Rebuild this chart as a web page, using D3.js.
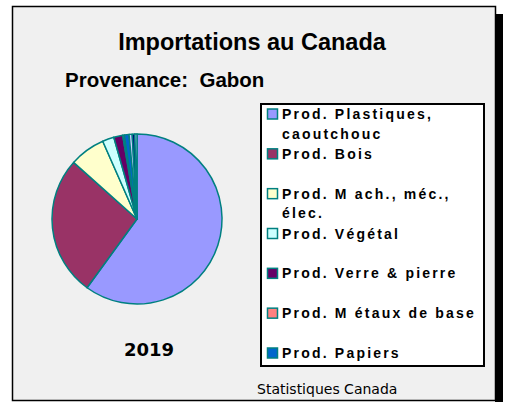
<!DOCTYPE html>
<html>
<head>
  <meta charset="utf-8">
  <script src="https://cdn.jsdelivr.net/npm/d3@7"></script>
  <style>
body { margin: 0; background: #fff; }
.title { font: bold 23.5px "Liberation Sans", Arial, sans-serif; white-space: pre; }
.legend text { font: bold 14px "Liberation Sans", Arial, sans-serif; letter-spacing: 2.2px; }
.year { font: bold 18px "DejaVu Sans", sans-serif; }
.source { font: 14px "DejaVu Sans", sans-serif; }
  </style>
</head>
<body>
  <svg width="507" height="402"></svg>
  <script>

// data (share of imports, %)
const categories = ["Prod. Plastiques, caoutchouc", "Prod. Bois", "Prod. Mach., méc., élec.",
                    "Prod. Végétal", "Prod. Verre & pierre", "Prod. Métaux de base", "Prod. Papiers",
                    "Autres 1", "Autres 2", "Autres 3"];
const values = [60.0, 26.6, 6.8, 2.2, 1.7, 0.3, 0.9, 0.6, 0.5, 0.4];
const colors = ["#9999FF", "#993366", "#FFFFCC", "#CCFFFF", "#660066", "#FF8080", "#0066CC",
                "#CCCCFF", "#000080", "#CCCCFF"];
// legend shows only the first 7, with line breaks as in the picture
const legendLines = [["Prod. Plastiques,", "caoutchouc"], ["Prod. Bois"], ["Prod. M ach., méc.,", "élec."],
                     ["Prod. Végétal"], ["Prod. Verre & pierre"], ["Prod. M étaux de base"], ["Prod. Papiers"]];

var svg = d3.select("svg");

// frame + shadow
svg.append("rect").attr("x", 495).attr("y", 14).attr("width", 8).attr("height", 388).attr("fill", "#000");
svg.append("rect").attr("x", 12.5).attr("y", 6.5).attr("width", 483).attr("height", 394)
   .attr("fill", "#F0F0F0").attr("stroke", "#000").attr("stroke-width", 1.5);

svg.append("text").attr("class", "title").attr("x", 252).attr("y", 50)
   .attr("text-anchor", "middle").text("Importations au Canada");
svg.append("text").attr("class", "title").attr("x", 65).attr("y", 87)
   .style("font-size", "20.5px").text("Provenance:  Gabon");

// pie
var pie = d3.pie().sort(null).value(d => d)(values);
var arc = d3.arc().innerRadius(0).outerRadius(85);

svg.append("g")
   .attr("transform", "translate(137,219)")
   .selectAll("path")
   .data(pie)
   .enter().append("path")
   .attr("d", arc)
   .attr("fill", (d, i) => colors[i])
   .attr("stroke", "#008080")
   .attr("stroke-width", 1.5)
   .attr("stroke-linejoin", "round");

svg.append("text").attr("class", "year").attr("x", 149).attr("y", 356)
   .attr("text-anchor", "middle").text("2019");
svg.append("text").attr("class", "source").attr("x", 257).attr("y", 394).text("Statistiques Canada");

// legend
var legend = svg.append("g").attr("class", "legend");
legend.append("rect").attr("x", 261).attr("y", 104).attr("width", 223).attr("height", 262)
      .attr("fill", "#fff").attr("stroke", "#000").attr("stroke-width", 2);

var y = d3.scaleLinear().domain([0, 6]).range([114, 353]);

var item = legend.selectAll("g.item")
                 .data(legendLines)
                 .enter().append("g")
                 .attr("class", "item")
                 .attr("transform", (d, i) => `translate(0,${y(i)})`);

item.append("rect")
    .attr("x", 267.5).attr("y", -5).attr("width", 10).attr("height", 10)
    .attr("fill", (d, i) => colors[i])
    .attr("stroke", "#008080").attr("stroke-width", 1.5);

item.selectAll("text")
    .data(d => d)
    .enter().append("text")
    .attr("x", 282)
    .attr("y", (d, j) => 5 + j * 19.5)
    .text(d => d);

</script>
</body>
</html>
